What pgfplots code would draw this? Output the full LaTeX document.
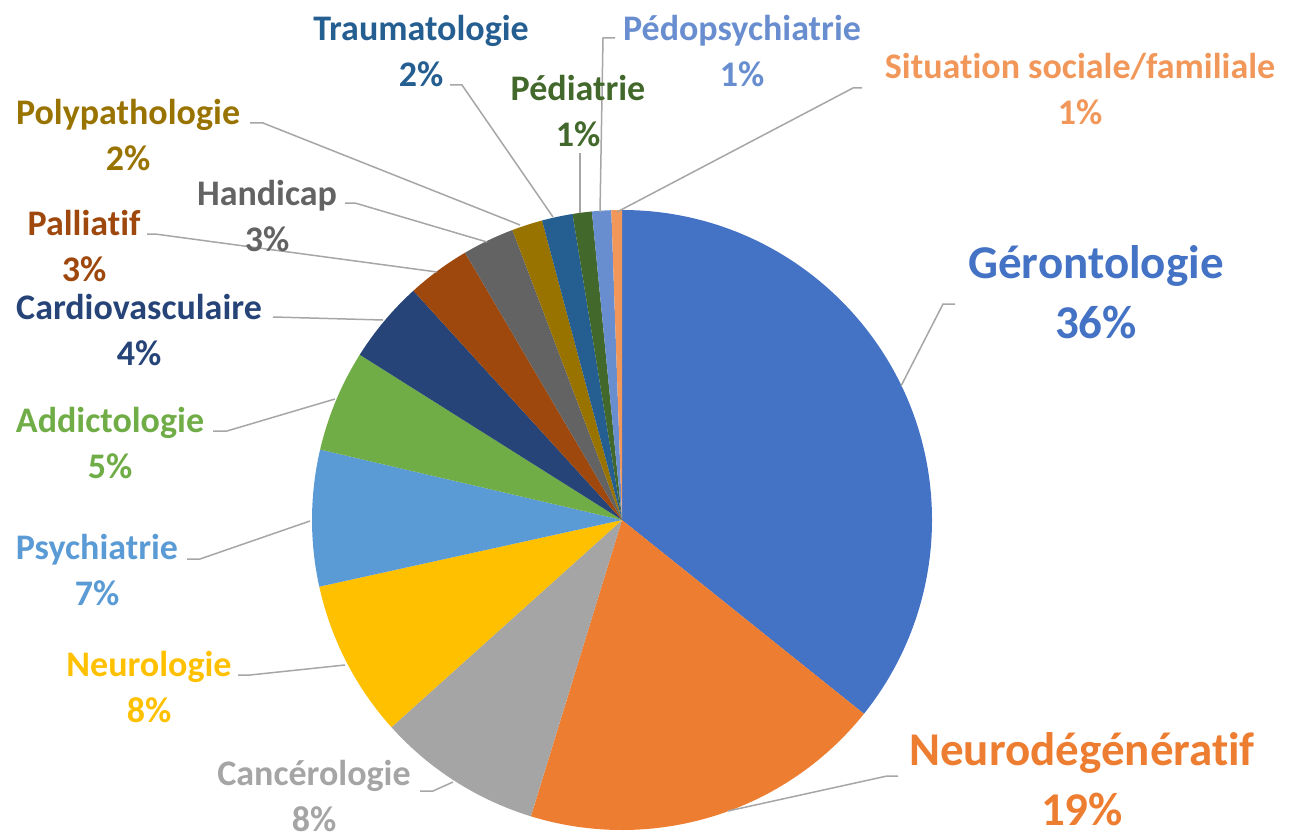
\documentclass[border=0pt]{standalone}
\usepackage{fontspec}
\setmainfont{Carlito}[RawFeature={-liga;-clig;-calt;-dlig}]
\usepackage{pgfplots}
\usepackage{pgfplotstable}
\pgfplotsset{compat=1.18}
\definecolor{c1}{HTML}{4472C4}
\definecolor{c2}{HTML}{ED7D31}
\definecolor{c3}{HTML}{A5A5A5}
\definecolor{c4}{HTML}{FFC000}
\definecolor{c5}{HTML}{5B9BD5}
\definecolor{c6}{HTML}{70AD47}
\definecolor{c7}{HTML}{264478}
\definecolor{c8}{HTML}{9E480E}
\definecolor{c9}{HTML}{636363}
\definecolor{c10}{HTML}{997300}
\definecolor{c11}{HTML}{255E91}
\definecolor{c12}{HTML}{43682B}
\definecolor{c13}{HTML}{698ED0}
\definecolor{c14}{HTML}{F1975A}
\definecolor{lead}{HTML}{A6A6A6}

% share of each category (percent), clockwise from 12 o'clock
\pgfplotstableread[col sep=comma]{
value,col
35.75,c1
19.0,c2
8.6,c3
8.2,c4
7.1,c5
5.3,c6
4.3,c7
3.3,c8
2.7,c9
1.6,c10
1.6,c11
1.0,c12
1.0,c13
0.55,c14
}\piedata

\newcommand{\lab}[5]{% x, y, colour, name, pct
  \node[align=center,text=#3,font=\bfseries\fontsize{18}{23}\selectfont] at (axis cs:#1,#2) {#4\\#5};}
\newcommand{\biglab}[5]{%
  \node[align=center,text=#3,font=\bfseries\fontsize{23.5}{30}\selectfont] at (axis cs:#1,#2) {#4\\#5};}

\begin{document}
\begin{tikzpicture}
\begin{axis}[name=ax,
  scale only axis, width=650.5pt, height=420pt,
  xmin=0, xmax=1301, ymin=0, ymax=840, y dir=reverse,
  hide axis, clip=false]
  \pgfmathsetmacro\cum{90}
  \pgfplotsinvokeforeach{0,...,13}{
    \pgfplotstablegetelem{#1}{value}\of\piedata \let\v\pgfplotsretval
    \pgfplotstablegetelem{#1}{col}\of\piedata \let\c\pgfplotsretval
    \pgfmathsetmacro\e{\cum-3.6*\v}
    \edef\cmd{\noexpand\fill[\c] (axis cs:622,520) -- ++(\cum:155pt) arc[start angle=\cum, end angle=\e, radius=155pt] -- cycle;}
    \cmd
    \global\let\cum\e
  }
  % leader lines
  \addplot[lead, line width=0.75pt, no marks] coordinates {(955,304) (943,304) (901,386)};
  \addplot[lead, line width=0.75pt, no marks] coordinates {(898,776) (887,776) (728,811)};
  \addplot[lead, line width=0.75pt, no marks] coordinates {(420,791) (433,791) (453,782)};
  \addplot[lead, line width=0.75pt, no marks] coordinates {(238,675) (250,675) (345,665)};
  \addplot[lead, line width=0.75pt, no marks] coordinates {(187,559) (200,559) (310,521)};
  \addplot[lead, line width=0.75pt, no marks] coordinates {(213,431) (227,431) (335,399)};
  \addplot[lead, line width=0.75pt, no marks] coordinates {(273,317) (383,320)};
  \addplot[lead, line width=0.75pt, no marks] coordinates {(147,234) (155,234) (437,272)};
  \addplot[lead, line width=0.75pt, no marks] coordinates {(345,203) (355,203) (487,242)};
  \addplot[lead, line width=0.75pt, no marks] coordinates {(250,123) (263,123) (520,225)};
  \addplot[lead, line width=0.75pt, no marks] coordinates {(450,85) (462,85) (553,217)};
  \addplot[lead, line width=0.75pt, no marks] coordinates {(580,153) (580,213)};
  \addplot[lead, line width=0.75pt, no marks] coordinates {(615,38) (603,38) (600,212)};
  \addplot[lead, line width=0.75pt, no marks] coordinates {(862,88) (853,88) (617,212)};
  % labels
  \biglab{1096}{292}{c1}{Gérontologie}{36\%}
  \biglab{1082}{779}{c2}{Neurodégénératif}{19\%}
  \lab{314}{796}{c3}{Cancérologie}{8\%}
  \lab{149}{687}{c4}{Neurologie}{8\%}
  \lab{97}{570}{c5}{Psychiatrie}{7\%}
  \lab{110}{443}{c6}{Addictologie}{5\%}
  \lab{139}{330}{c7}{Cardiovasculaire}{4\%}
  \lab{84}{246}{c8}{Palliatif}{3\%}
  \lab{267}{216}{c9}{Handicap}{3\%}
  \lab{128}{135}{c10}{Polypathologie}{2\%}
  \lab{421}{51}{c11}{Traumatologie}{2\%}
  \lab{578}{111}{c12}{Pédiatrie}{1\%}
  \lab{742}{51}{c13}{Pédopsychiatrie}{1\%}
  \lab{1080}{89}{c14}{Situation sociale/familiale}{1\%}
\end{axis}
\pgfresetboundingbox
\useasboundingbox (ax.south west) rectangle (ax.north east);
\end{tikzpicture}
\end{document}
